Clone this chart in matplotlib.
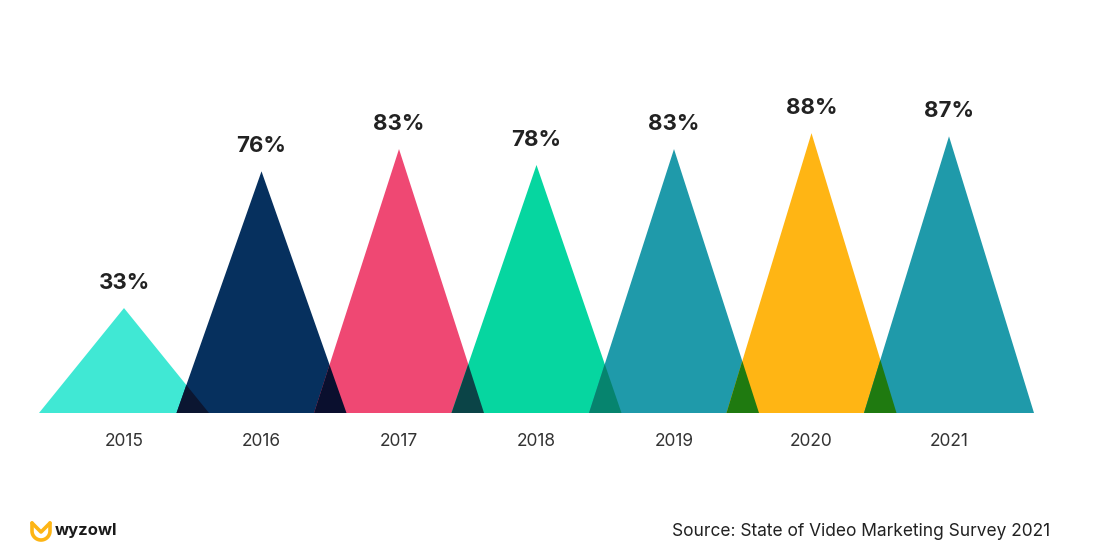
import numpy as np
import matplotlib
matplotlib.use("Agg")
import matplotlib.pyplot as plt
from matplotlib.patches import Polygon

years = ["2015", "2016", "2017", "2018", "2019", "2020", "2021"]
values = [33, 76, 83, 78, 83, 88, 87]
colors = ["#40E8D4", "#06305E", "#EF4873", "#06D6A0", "#1F9AAA", "#FFB514", "#1F9AAA"]
overlap_colors = ["#0B1631", "#0A0F2E", "#0B4447", "#06846E", "#1F7A10", "#1F7A10"]
source_text = "Source: State of Video Marketing Survey 2021"
brand = "wyzowl"

W, H = 1110, 544
fig = plt.figure(figsize=(W / 100, H / 100), dpi=100)
fig.patch.set_facecolor("white")

# pixel mapping
x0_px, dx_px = 124, 137.5
base_px, unit_px = 413, 3.18
ax = fig.add_axes([0, 0, 1, 1])
ax.set_xlim((0 - x0_px) / dx_px, (W - x0_px) / dx_px)
ax.set_ylim((base_px - H) / unit_px, base_px / unit_px)
ax.axis("off")

h = 85 / dx_px  # half base width

for i, (v, c) in enumerate(zip(values, colors)):
    ax.add_patch(Polygon([(i - h, 0), (i, v), (i + h, 0)], closed=True,
                         facecolor=c, edgecolor="none", zorder=2))
    ax.text(i, v + 25 / unit_px, f"{v}%", ha="center", va="center",
            fontsize=16, fontweight="bold", family="Inter", color="#222222", zorder=5)
    ax.text(i, -29 / unit_px, years[i], ha="center", va="center",
            fontsize=12.5, family="Inter", color="#333333", zorder=5)

# overlaps
for i in range(len(values) - 1):
    v1, v2 = values[i], values[i + 1]
    a, b = i + 1 - h, i + h
    if b <= a:
        continue
    x = (v1 * (i + h) + v2 * a) / (v1 + v2)
    y = v2 * (x - a) / h
    ax.add_patch(Polygon([(a, 0), (x, y), (b, 0)], closed=True,
                         facecolor=overlap_colors[i], edgecolor="none", zorder=3))

# overlay axes in pixel coordinates for footer
ov = fig.add_axes([0, 0, 1, 1])
ov.set_xlim(0, W)
ov.set_ylim(H, 0)
ov.axis("off")
ov.patch.set_alpha(0)

ov.text(1050, 531, source_text, ha="right", va="center", fontsize=12.5,
        family="Inter", color="#222222")
ov.text(55, 530, brand, ha="left", va="center", fontsize=12, fontweight="bold",
        family="Inter", color="#1a1a1a")
# logo icon
t = np.linspace(np.pi, 2 * np.pi, 30)
cx, cy, r = 41, 531, 9
ux = cx + r * np.cos(t)
uy = cy - r * np.sin(t)
ov.plot([32, 32] + list(ux[1:-1]) + [50, 50], [523, 531] + list(uy[1:-1]) + [531, 523],
        color="#FDB515", lw=2.6, solid_capstyle="round", solid_joinstyle="round")
ov.plot([32, 41, 50], [523, 532, 523], color="#FDB515", lw=2.6,
        solid_capstyle="round", solid_joinstyle="round")

fig.savefig("out.png", dpi=100, facecolor="white")
